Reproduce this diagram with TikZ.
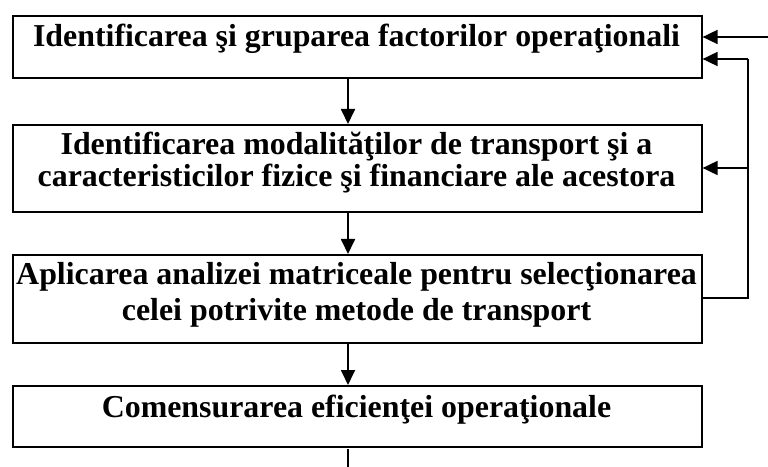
\documentclass[tikz,border=0pt]{standalone}
\usepackage{fontspec}
\setmainfont{Liberation Serif}
\usetikzlibrary{arrows.meta}
\begin{document}
\begin{tikzpicture}[x=1bp,y=-1bp,
  box/.style={draw,line width=1.6bp,inner sep=0pt,anchor=north west},
  lbl/.style={font=\fontsize{32}{32}\selectfont\bfseries,align=center,inner sep=0pt,anchor=base},
  conn/.style={line width=1.8bp},
  arr/.style={conn,-{Triangle[length=15bp,width=14bp]}}]
\useasboundingbox (0,0) rectangle (768,467);
% boxes
\node[box,minimum width=689bp,minimum height=62bp] (b1) at (12,15) {};
\node[box,minimum width=689bp,minimum height=87bp] (b2) at (12,124) {};
\node[box,minimum width=689bp,minimum height=88bp] (b3) at (12,254) {};
\node[box,minimum width=689bp,minimum height=61bp] (b4) at (12,385) {};
% texts
\node[lbl] (t1) at (356.5,47) {Identificarea şi gruparea factorilor operaţionali};
\node[lbl] (t2a) at (356.5,155) {Identificarea modalităţilor de transport şi a};
\node[lbl] (t2b) at (356.5,187) {caracteristicilor fizice şi financiare ale acestora};
\node[lbl] (t3a) at (356.5,285) {Aplicarea analizei matriceale pentru selecţionarea};
\node[lbl] (t3b) at (356.5,321) {celei potrivite metode de transport};
\node[lbl] (t4) at (356.5,417) {Comensurarea eficienţei operaţionale};
% vertical arrows
\draw[arr] (b1.south -| 348,0) -- (b2.north -| 348,0);
\draw[arr] (b2.south -| 348,0) -- (b3.north -| 348,0);
\draw[arr] (b3.south -| 348,0) -- (b4.north -| 348,0);
\coordinate (bot) at (348,467);
\draw[conn] (348,449) -- (bot);
% feedback
\coordinate (in) at (768,37);
\coordinate (r3) at (748,298);
\coordinate (r2) at (748,168);
\coordinate (r1) at (748,59);
\draw[arr] (in) -- (in -| b1.east);
\draw[conn] (r3 -| b3.east) -- (r3) -- (r1);
\draw[arr] (r1) -- (r1 -| b1.east);
\draw[arr] (r2) -- (r2 -| b2.east);
\end{tikzpicture}
\end{document}
